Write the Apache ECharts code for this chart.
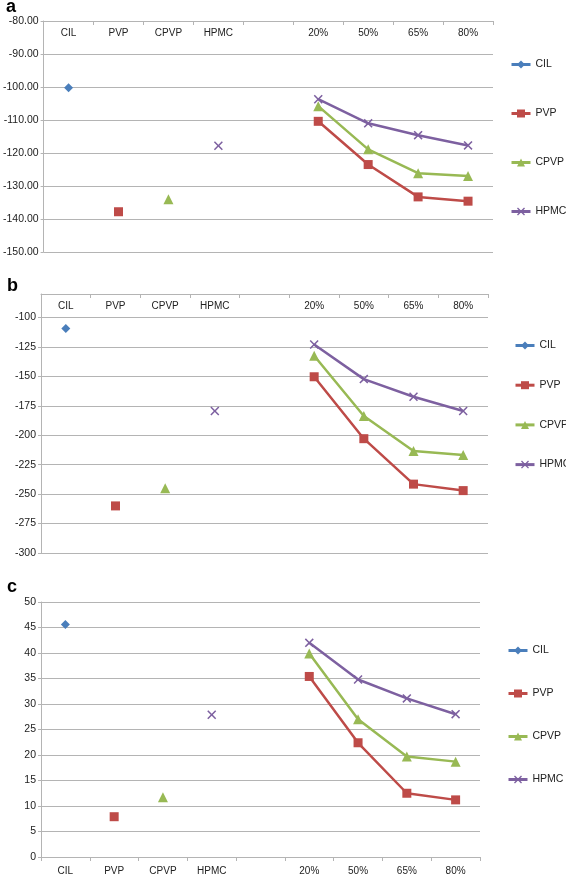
<!DOCTYPE html>
<html>
<head>
<meta charset="utf-8">
<script src="https://cdn.jsdelivr.net/npm/echarts@6/dist/echarts.min.js"></script>
<style>
html,body{margin:0;padding:0;background:#fff;}
#chart{width:566px;height:876px;}
</style>
</head>
<body>
<div id="chart"></div>
<script>
// ---- data ----
const categories = ['CIL', 'PVP', 'CPVP', 'HPMC', '', '20%', '50%', '65%', '80%'];
const seriesNames = ['CIL', 'PVP', 'CPVP', 'HPMC'];
const panelLabels = ['a', 'b', 'c'];

// panel a
const aCIL  = [-100.2, null, null, null, null, null, null, null, null];
const aPVP  = [null, -137.8, null, null, null, -110.4, -123.5, -133.3, -134.6];
const aCPVP = [null, null, -134.0, null, null, -105.8, -118.9, -126.1, -127.0];
const aHPMC = [null, null, null, -117.8, null, -103.7, -111.0, -114.6, -117.7];

// panel b
const bCIL  = [-109.3, null, null, null, null, null, null, null, null];
const bPVP  = [null, -260.0, null, null, null, -150.3, -202.9, -241.5, -247.0];
const bCPVP = [null, null, -245.0, null, null, -132.5, -183.6, -213.3, -216.7];
const bHPMC = [null, null, null, -179.4, null, -122.9, -152.3, -167.3, -179.4];

// panel c
const cCIL  = [45.6, null, null, null, null, null, null, null, null];
const cPVP  = [null, 7.9, null, null, null, 35.4, 22.4, 12.5, 11.2];
const cCPVP = [null, null, 11.7, null, null, 39.9, 27.0, 19.7, 18.7];
const cHPMC = [null, null, null, 27.9, null, 42.0, 34.8, 31.1, 28.0];

const panelData = [
  [aCIL, aPVP, aCPVP, aHPMC],
  [bCIL, bPVP, bCPVP, bHPMC],
  [cCIL, cPVP, cCPVP, cHPMC]
];
const yRanges = [
  {min: -150, max: -80, interval: 10},
  {min: -300, max: -80, interval: 25},
  {min: 0, max: 50, interval: 5}
];

// ---- styles ----
const FONT = "'Liberation Sans', Arial, Helvetica, sans-serif";
const colors = ['#4a7ebb', '#be4b48', '#98b954', '#7d60a0'];
const xPath = 'path://M0,1.2 L1.2,0 L5,3.8 L8.8,0 L10,1.2 L6.2,5 L10,8.8 L8.8,10 L5,6.2 L1.2,10 L0,8.8 L3.8,5 Z';
const symbols = ['diamond', 'rect', 'triangle', xPath];
const symbolSizes = [9, 9, 10, 9];
const gridColor = '#b4b4b4';

const grids = [
  {left: 41, top: 21, width: 452, height: 231},
  {left: 41, top: 294, width: 447, height: 259},
  {left: 41, top: 602, width: 439, height: 256}
];
const legendPos = [
  {left: 505, top: 54, itemGap: 38},
  {left: 509, top: 335, itemGap: 28.7},
  {left: 502, top: 640, itemGap: 32}
];
const letterPos = [[6, -2], [7, 277], [7, 578]];

const option = {
  animation: false,
  backgroundColor: '#fff',
  textStyle: {fontFamily: FONT},
  grid: grids.map(g => Object.assign({containLabel: false}, g)),
  xAxis: grids.map((g, i) => ({
    type: 'category',
    gridIndex: i,
    data: categories,
    position: i < 2 ? 'top' : 'bottom',
    boundaryGap: true,
    axisLine: {show: true, lineStyle: {color: gridColor, width: 1}},
    axisTick: {show: true, inside: i < 2, length: 4, lineStyle: {color: gridColor}},
    axisLabel: {
      show: true, inside: i < 2, margin: i < 2 ? 7 : 9, interval: 0,
      color: '#222', fontSize: 10, fontFamily: FONT
    },
    splitLine: {show: false}
  })),
  yAxis: yRanges.map((r, i) => ({
    type: 'value',
    gridIndex: i,
    min: r.min, max: r.max, interval: r.interval,
    axisLine: {show: true, lineStyle: {color: gridColor, width: 1}},
    axisTick: {show: true, length: 3, lineStyle: {color: gridColor}},
    axisLabel: {
      color: '#222', fontSize: 10.5, fontFamily: FONT, margin: 5,
      showMaxLabel: i === 1 ? false : true,
      formatter: i === 0 ? (v => v.toFixed(2)) : (v => String(v))
    },
    splitLine: {show: true, lineStyle: {color: gridColor, width: 1}}
  })),
  legend: legendPos.map((p, i) => ({
    orient: 'vertical',
    left: p.left, top: p.top, itemGap: p.itemGap,
    itemWidth: 19, itemHeight: 10,
    data: seriesNames,
    selectedMode: false,
    lineStyle: {width: 3},
    textStyle: {color: '#222', fontSize: 10.5, fontFamily: FONT}
  })),
  graphic: panelLabels.map((t, i) => ({
    type: 'text',
    left: letterPos[i][0], top: letterPos[i][1],
    style: {text: t, font: 'bold 18px ' + FONT, fill: '#000'}
  })),
  series: []
};

panelData.forEach((arrs, pi) => {
  arrs.forEach((d, si) => {
    option.series.push({
      name: seriesNames[si],
      type: 'line',
      xAxisIndex: pi, yAxisIndex: pi,
      data: d,
      connectNulls: false,
      showSymbol: true,
      showAllSymbol: true,
      symbol: symbols[si],
      symbolSize: symbolSizes[si],
      itemStyle: {color: colors[si]},
      lineStyle: {color: colors[si], width: 2.5},
      emphasis: {disabled: true}
    });
  });
});

const chart = echarts.init(document.getElementById('chart'), null, {renderer: 'canvas'});
chart.setOption(option);
</script>
</body>
</html>
